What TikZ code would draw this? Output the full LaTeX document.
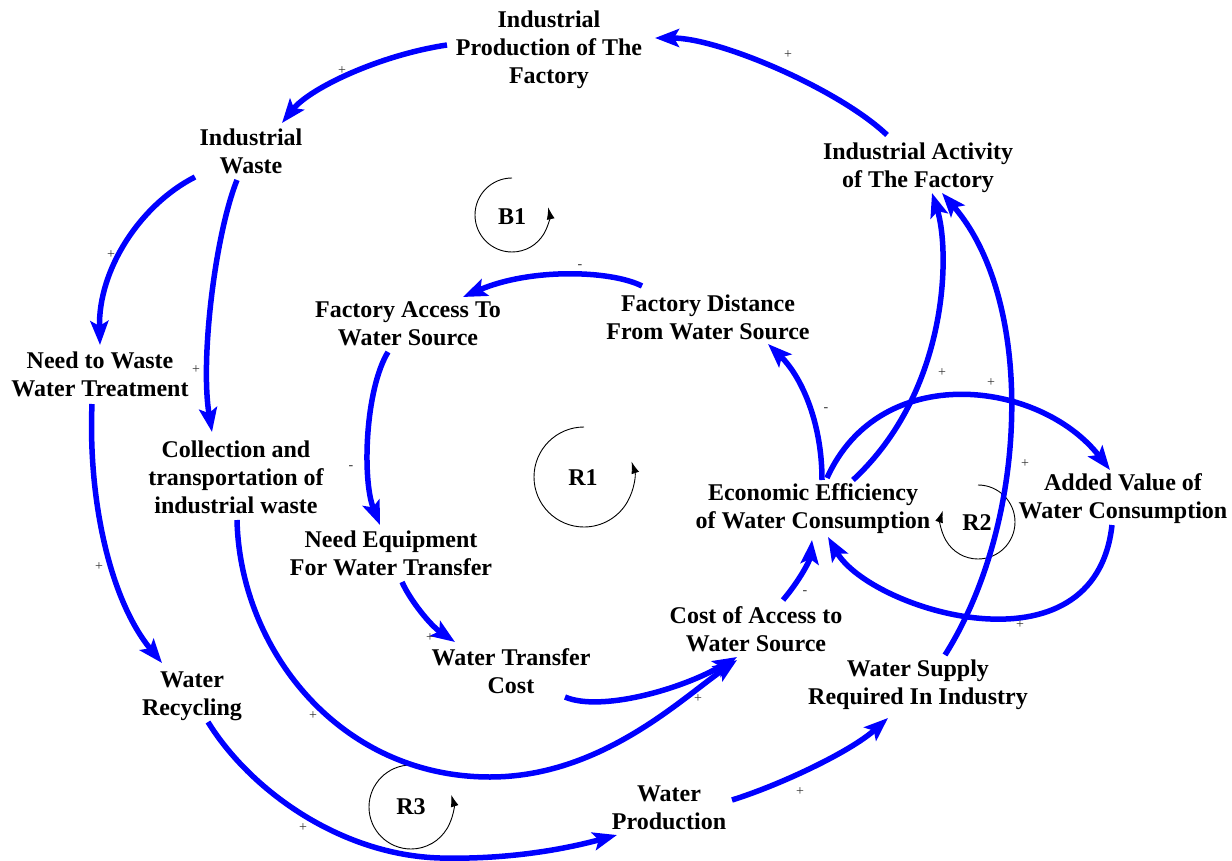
\documentclass[tikz,border=0pt]{standalone}
\usepackage{fontspec}
\setmainfont{Liberation Serif}
\usetikzlibrary{arrows.meta,calc}
\definecolor{linkblue}{RGB}{0,0,255}
\begin{document}
\begin{tikzpicture}[x=1pt,y=-1pt,
  var/.style={align=center,font=\fontsize{24}{28}\selectfont\bfseries,inner sep=2pt},
  looplabel/.style={font=\fontsize{24}{28}\selectfont\bfseries,inner sep=0pt},
  link/.style={draw=linkblue,line width=5.5pt,
    -{Stealth[length=24pt,width=18pt,inset=5pt]}},
  loopmark/.style={draw=black,line width=0.9pt,-{Latex[length=12pt,width=8pt]}},
  sign/.style={font=\fontsize{14}{14}\selectfont,inner sep=0pt,text=black!80}]
\useasboundingbox (0,0) rectangle (1232,861);

% variables
\node[var] (prod)   at (549,50)  {Industrial\\Production of The\\Factory};
\node[var] (waste)  at (251,151) {Industrial\\Waste};
\node[var] (act)    at (918,168) {Industrial Activity\\of The Factory};
\node[var] (needw)  at (100,374) {Need to Waste\\Water Treatment};
\node[var] (access) at (408,324) {Factory Access To\\Water Source};
\node[var] (dist)   at (708,317) {Factory Distance\\From Water Source};
\node[var] (coll)   at (236,477) {Collection and\\transportation of\\industrial waste};
\node[var] (econ)   at (813,509) {Economic Efficiency\\of Water Consumption};
\node[var] (added)  at (1123,499) {Added Value of\\Water Consumption};
\node[var] (equip)  at (391,553) {Need Equipment\\For Water Transfer};
\node[var] (cost)   at (756,629) {Cost of Access to\\Water Source};
\node[var] (tcost)  at (511,671) {Water Transfer\\Cost};
\node[var] (supply) at (918,685) {Water Supply\\Required In Industry};
\node[var] (recyc)  at (192,696) {Water\\Recycling};
\node[var] (wprod)  at (669,808) {Water\\Production};

% loop identifiers
\node[looplabel] (b1) at (512,217) {B1};
\node[looplabel] (r1) at (583,478) {R1};
\node[looplabel] (r2) at (977,523) {R2};
\node[looplabel] (r3) at (411,807) {R3};
\draw[loopmark] (512,178) arc[start angle=270,end angle=-12,radius=37];
\draw[loopmark] (584,427) arc[start angle=270,end angle=-18,radius=50];
\draw[loopmark] (978,485) arc[start angle=270,end angle=558,radius=37];
\draw[loopmark] (411,765) arc[start angle=270,end angle=-17,radius=42];

% causal links
\draw[link] ($(act)+(-31,-33)$) .. controls (840,90) and (720,38) .. ($(prod)+(106,-12)$);
\draw[link] ($(prod)+(-102,-5)$) .. controls (380,55) and (310,88) .. ($(waste)+(31,-28)$);
\draw[link] ($(waste)+(-56,26)$) .. controls (140,205) and (98,270) .. ($(needw)+(0,-29)$);
\draw[link] ($(waste)+(-14,29)$) .. controls (215,235) and (200,360) .. ($(coll)+(-24,-45)$);
\draw[link] ($(needw)+(-8,30)$) .. controls (88,500) and (110,600) .. ($(recyc)+(-30,-33)$);
\draw[link] ($(coll)+(1,43)$) .. controls (240,650) and (340,777) .. (490,777)
  .. controls (600,777) and (680,700) .. ($(cost)+(-19,31)$);
\draw[link] ($(tcost)+(54,26)$) .. controls (600,712) and (680,690) .. ($(cost)+(-19,28)$);
\draw[link] ($(recyc)+(16,26)$) .. controls (250,790) and (340,855) .. (440,858)
  .. controls (520,860) and (580,845) .. ($(wprod)+(-52,27)$);
\draw[link] ($(wprod)+(63,-8)$) .. controls (780,785) and (850,752) .. ($(supply)+(-30,33)$);
\draw[link] ($(supply)+(27,-30)$) .. controls (1030,520) and (1035,300) .. ($(act)+(24,25)$);
\draw[link] ($(econ)+(40,-29)$) .. controls (950,390) and (950,250) .. ($(act)+(14,25)$);
\draw[link] ($(econ)+(9,-29)$) .. controls (822,420) and (800,375) .. ($(dist)+(60,27)$);
\draw[link] ($(econ)+(14,-31)$) .. controls (880,360) and (1040,380) .. ($(added)+(-13,-29)$);
\draw[link] ($(added)+(-11,26)$) .. controls (1095,680) and (870,610) .. ($(econ)+(15,28)$);
\draw[link] ($(cost)+(27,-29)$) .. controls (800,580) and (810,560) .. ($(econ)+(-1,31)$);
\draw[link] ($(dist)+(-66,-31)$) .. controls (610,270) and (530,268) .. ($(access)+(55,-27)$);
\draw[link] ($(access)+(-20,28)$) .. controls (365,390) and (362,480) .. ($(equip)+(-11,-28)$);
\draw[link] ($(equip)+(11,29)$) .. controls (410,600) and (430,625) .. ($(tcost)+(-56,-29)$);

% link polarities
\node[sign] at (788,55)  {+};
\node[sign] at (342,71)  {+};
\node[sign] at (111,255) {+};
\node[sign] at (196,370) {+};
\node[sign] at (99,567)  {+};
\node[sign] at (313,716) {+};
\node[sign] at (303,828) {+};
\node[sign] at (800,792) {+};
\node[sign] at (698,699) {+};
\node[sign] at (430,638) {+};
\node[sign] at (351,468) {-};
\node[sign] at (580,267) {-};
\node[sign] at (826,410) {-};
\node[sign] at (805,593) {-};
\node[sign] at (942,373) {+};
\node[sign] at (991,383) {+};
\node[sign] at (1025,464) {+};
\node[sign] at (1020,625) {+};
\end{tikzpicture}
\end{document}
